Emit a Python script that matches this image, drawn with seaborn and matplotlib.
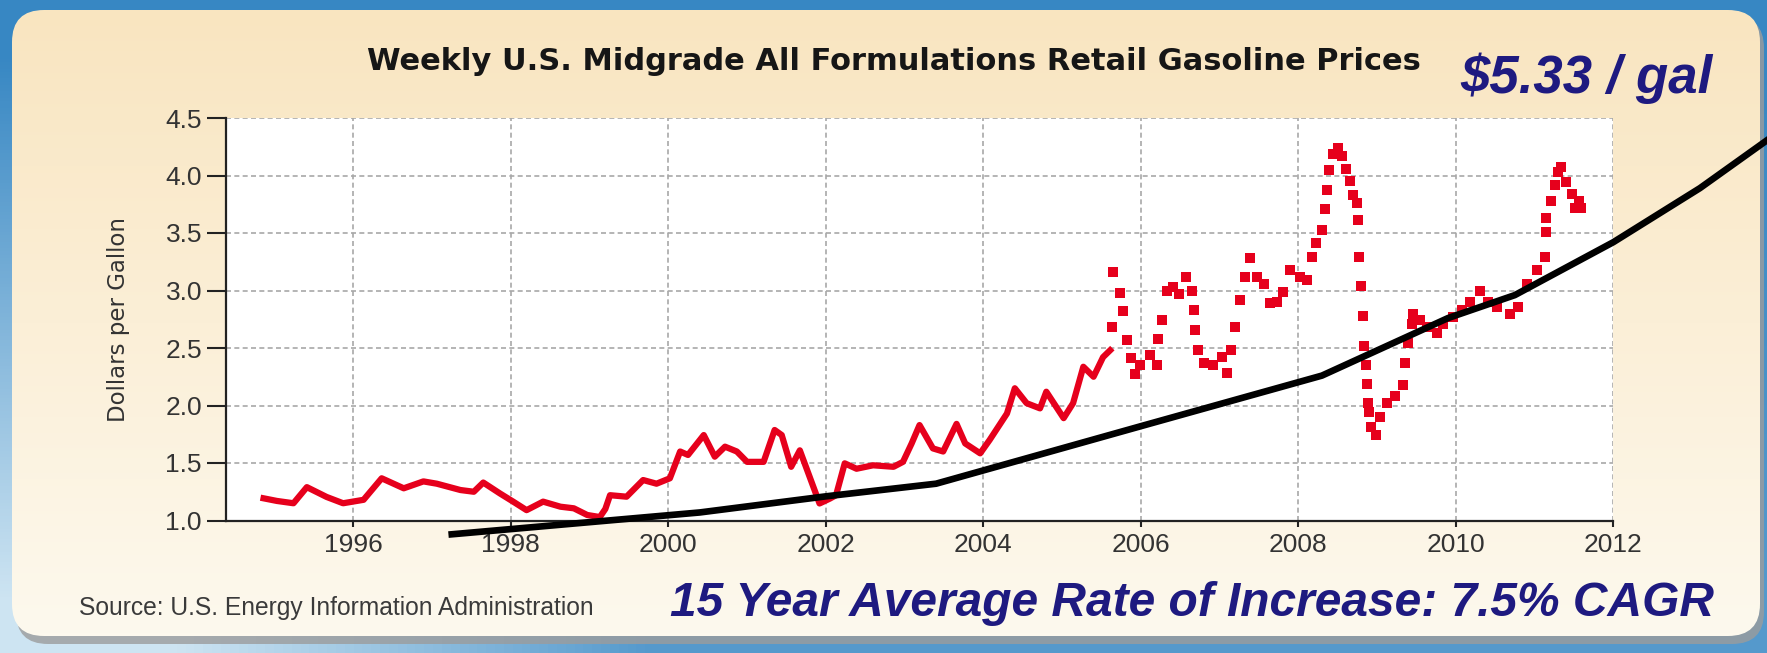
import numpy as np
import pandas as pd
import matplotlib
matplotlib.use("Agg")
import matplotlib.pyplot as plt
from matplotlib.patches import FancyBboxPatch
import seaborn as sns

# ---------------- data ----------------
solid_years = [1994.86, 1995.03, 1995.24, 1995.41, 1995.66, 1995.87, 1996.13, 1996.36, 1996.64,
               1996.89, 1997.06, 1997.36, 1997.53, 1997.65, 1997.86, 1998.03, 1998.20, 1998.41,
               1998.63, 1998.80, 1998.97, 1999.13, 1999.20, 1999.26, 1999.47, 1999.68, 1999.85,
               2000.02, 2000.15, 2000.25, 2000.45, 2000.59, 2000.72, 2000.87, 2001.00, 2001.21,
               2001.35, 2001.44, 2001.56, 2001.67, 2001.92, 2002.05, 2002.13, 2002.24, 2002.39,
               2002.60, 2002.86, 2002.98, 2003.09, 2003.19, 2003.36, 2003.49, 2003.66, 2003.77,
               2003.96, 2004.08, 2004.30, 2004.40, 2004.55, 2004.72, 2004.80, 2005.02, 2005.14,
               2005.27, 2005.40, 2005.52, 2005.61]
solid_prices = [1.193, 1.17, 1.15, 1.29, 1.205, 1.15, 1.18, 1.367, 1.28,
                1.34, 1.32, 1.265, 1.25, 1.33, 1.236, 1.164, 1.09, 1.164,
                1.12, 1.106, 1.048, 1.03, 1.10, 1.22, 1.207, 1.352, 1.32,
                1.367, 1.60, 1.57, 1.743, 1.555, 1.642, 1.60, 1.51, 1.51,
                1.787, 1.743, 1.467, 1.61, 1.148, 1.19, 1.22, 1.497, 1.45,
                1.48, 1.467, 1.51, 1.67, 1.83, 1.627, 1.60, 1.84, 1.67,
                1.584, 1.70, 1.93, 2.15, 2.02, 1.975, 2.12, 1.89, 2.02,
                2.337, 2.25, 2.42, 2.48]

dot_years = [2005.63, 2005.65, 2005.74, 2005.78, 2005.82, 2005.87, 2005.93, 2005.99, 2006.12,
             2006.20, 2006.22, 2006.27, 2006.33, 2006.41, 2006.48, 2006.58, 2006.65, 2006.67,
             2006.69, 2006.73, 2006.80, 2006.92, 2007.03, 2007.09, 2007.15, 2007.20, 2007.26,
             2007.32, 2007.39, 2007.47, 2007.56, 2007.64, 2007.73, 2007.81, 2007.90, 2008.02,
             2008.11, 2008.17, 2008.23, 2008.30, 2008.34, 2008.36, 2008.39, 2008.44, 2008.51,
             2008.55, 2008.61, 2008.66, 2008.70, 2008.74, 2008.76, 2008.77, 2008.79, 2008.82,
             2008.83, 2008.86, 2008.87, 2008.89, 2008.90, 2008.92, 2008.99, 2009.04, 2009.12,
             2009.23, 2009.33, 2009.35, 2009.39, 2009.44, 2009.46, 2009.54, 2009.63, 2009.76,
             2009.84, 2009.97, 2010.08, 2010.18, 2010.31, 2010.41, 2010.52, 2010.69, 2010.79,
             2010.90, 2011.03, 2011.13, 2011.14, 2011.15, 2011.21, 2011.26, 2011.30, 2011.34,
             2011.40, 2011.47, 2011.51, 2011.57, 2011.59]
dot_prices = [2.685, 3.164, 2.98, 2.82, 2.57, 2.41, 2.27, 2.35, 2.44,
              2.35, 2.58, 2.74, 3.00, 3.03, 2.97, 3.12, 3.00, 2.83,
              2.66, 2.48, 2.37, 2.35, 2.425, 2.28, 2.48, 2.685, 2.92,
              3.12, 3.28, 3.12, 3.06, 2.89, 2.90, 2.99, 3.18, 3.12,
              3.09, 3.29, 3.41, 3.53, 3.71, 3.87, 4.05, 4.19, 4.24,
              4.17, 4.06, 3.95, 3.83, 3.76, 3.61, 3.29, 3.04, 2.78,
              2.52, 2.35, 2.19, 2.02, 1.94, 1.81, 1.74, 1.90, 2.02,
              2.08, 2.18, 2.37, 2.54, 2.71, 2.80, 2.74, 2.685, 2.63,
              2.71, 2.77, 2.83, 2.90, 3.00, 2.90, 2.86, 2.80, 2.86,
              3.06, 3.18, 3.29, 3.51, 3.63, 3.78, 3.92, 4.03, 4.07,
              3.94, 3.84, 3.72, 3.78, 3.72]

cagr_years = [1997.25, 2000.4, 2002.0, 2003.4, 2006.0, 2008.3, 2009.9, 2010.75, 2012.0, 2013.1, 2014.0]
cagr_values = [0.88, 1.07, 1.21, 1.32, 1.82, 2.26, 2.76, 2.96, 3.42, 3.89, 4.33]

x_ticks = [1996, 1998, 2000, 2002, 2004, 2006, 2008, 2010, 2012]
y_ticks = [1.0, 1.5, 2.0, 2.5, 3.0, 3.5, 4.0, 4.5]

title_text = "Weekly U.S. Midgrade All Formulations Retail Gasoline Prices"
ylabel_text = "Dollars per Gallon"
source_text = "Source: U.S. Energy Information Administration"
price_note = "$5.33 / gal"
cagr_note = "15 Year Average Rate of Increase: 7.5% CAGR"

# ---------------- figure ----------------
plt.rcParams['font.family'] = ['Liberation Sans', 'DejaVu Sans']
W, H = 1767, 653
fig = plt.figure(figsize=(W / 100, H / 100), dpi=100)

# background (blue) + cream rounded panel
bg = fig.add_axes([0, 0, 1, 1], zorder=-10)
bg.set_xlim(0, W)
bg.set_ylim(H, 0)
bg.axis('off')
yy = np.linspace(0, 1, 200)[:, None]
xx = np.linspace(0, 1, 200)[None, :]
blue = np.zeros((200, 200, 3))
top = np.array([55, 135, 195]) / 255
bot = np.array([205, 228, 242]) / 255
mix = np.clip(yy * 1.2 - 0.1, 0, 1) * np.clip(1.3 - xx * 3, 0.2, 1)
blue[:] = top * (1 - mix[..., None]) + bot * mix[..., None]
bg.imshow(blue, extent=[0, W, H, 0], aspect='auto', zorder=0)

shadow = FancyBboxPatch((16, 16), 1748, 628, boxstyle="round,pad=0,rounding_size=32",
                        facecolor='#9c9c9c', edgecolor='none', alpha=0.8, zorder=1)
bg.add_patch(shadow)
panel = FancyBboxPatch((12, 10), 1748, 626, boxstyle="round,pad=0,rounding_size=32",
                       facecolor='none', edgecolor='none', zorder=2)
bg.add_patch(panel)
grad = np.zeros((200, 2, 3))
c_top = np.array([249, 229, 192]) / 255
c_bot = np.array([253, 249, 238]) / 255
t = np.linspace(0, 1, 200)[:, None]
grad[:] = (c_top * (1 - t) + c_bot * t)[:, None, :]
im = bg.imshow(grad, extent=[12, 1760, 636, 10], aspect='auto', zorder=2)
im.set_clip_path(panel)

# main axes
x0, x1 = 225.6, 1613.3
y0, y1 = 520.5, 118.0
ax = fig.add_axes([x0 / W, (H - y0) / H, (x1 - x0) / W, (y0 - y1) / H])
ax.set_facecolor('white')

df_solid = pd.DataFrame({'year': solid_years, 'price': solid_prices})
df_dots = pd.DataFrame({'year': dot_years, 'price': dot_prices})
df_cagr = pd.DataFrame({'year': cagr_years, 'value': cagr_values})

red = '#e6001c'
sns.lineplot(data=df_solid, x='year', y='price', ax=ax, color=red, linewidth=4.5,
             estimator=None, sort=False, zorder=3, solid_joinstyle='round')
sns.scatterplot(data=df_dots, x='year', y='price', ax=ax, color=red, marker='s',
                s=42, linewidth=0, zorder=3)
sns.lineplot(data=df_cagr, x='year', y='value', ax=ax, color='black', linewidth=4.8,
             estimator=None, sort=False, zorder=6, clip_on=False)

ax.set_xlim(1994.378, 2012.0)
ax.set_ylim(1.0, 4.5)
ax.set_xticks(x_ticks)
ax.set_xticklabels([str(v) for v in x_ticks])
ax.set_yticks(y_ticks)
ax.set_yticklabels([f"{v:.1f}" for v in y_ticks])
ax.set_xlabel('')
ax.set_ylabel('')
ax.grid(True, color='#a8a8a8', linestyle=(0, (3, 2)), linewidth=1.2, zorder=0)
ax.set_axisbelow(True)
for s in ['top', 'right']:
    ax.spines[s].set_visible(False)
for s in ['left', 'bottom']:
    ax.spines[s].set_color('#222222')
    ax.spines[s].set_linewidth(1.6)
ax.tick_params(axis='y', direction='out', length=14, width=1.5, color='#222222',
               pad=3, labelsize=19, labelcolor='#333333')
ax.tick_params(axis='x', direction='out', length=4, width=1.5, color='#222222',
               pad=5, labelsize=19, labelcolor='#333333')

# texts
fig.text(894 / W, 1 - 70 / H, title_text, ha='center', va='baseline',
         fontsize=22, fontweight='bold', color='#161616', family=['DejaVu Sans'])
fig.text(119 / W, 1 - 320 / H, ylabel_text, ha='center', va='center', rotation=90,
         fontsize=16.5, color='#333333', family=['DejaVu Sans'])
fig.text(79 / W, 1 - 615 / H, source_text, ha='left', va='baseline',
         fontsize=17.7, color='#3a3a3a')
fig.text(1460 / W, 1 - 93 / H, price_note, ha='left', va='baseline',
         fontsize=38, fontweight='bold', fontstyle='italic', color='#1e1a80')
fig.text(670 / W, 1 - 616 / H, cagr_note, ha='left', va='baseline',
         fontsize=34.5, fontweight='bold', fontstyle='italic', color='#1e1a80')

fig.savefig('out.png', dpi=100)
